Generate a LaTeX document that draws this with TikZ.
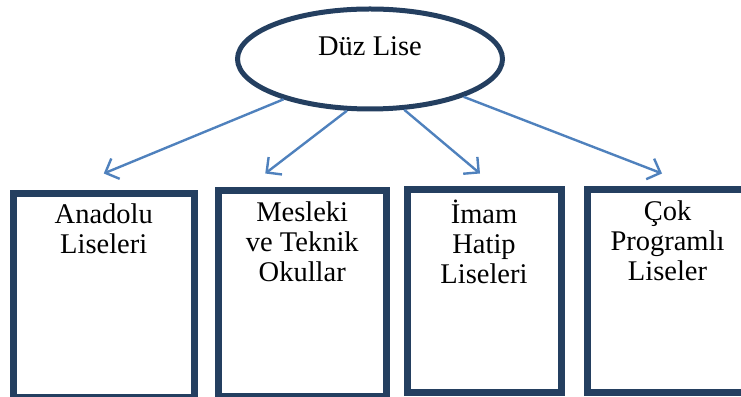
\documentclass[tikz,border=0pt]{standalone}
\usepackage{fontspec}
\setmainfont{Liberation Serif}
\usetikzlibrary{shapes.geometric,arrows.meta}
\definecolor{navy}{RGB}{36,63,96}
\definecolor{arrblue}{RGB}{79,129,189}
\begin{document}
\begin{tikzpicture}[x=1pt,y=1pt,
        oval/.style={ellipse, draw=navy, line width=5pt,
                        minimum width=265pt, minimum height=100pt,
                        text height=19pt, text depth=25pt,
                        font=\fontsize{28.5}{31}\selectfont},
        box/.style={rectangle, draw=navy, line width=7pt, inner sep=0pt},
        txt/.style={anchor=north, align=center, inner sep=0pt,
                        font=\fontsize{28.5}{30}\selectfont},
        arr/.style={draw=arrblue, line width=2.4pt,
                        -{Straight Barb[length=11pt,width=22pt,line width=2.4pt]}}]
    \useasboundingbox (0,0) rectangle (741,396);
    \clip (0,0) rectangle (741,396);
    \node[oval] (duz) at (370,337) {Düz Lise};
    \node[box, minimum width=180.5pt, minimum height=203.5pt] (box1) at (103.75,100.75) {};
    \node[box, minimum width=167.5pt, minimum height=205.5pt] (box2) at (302.25,102.75) {};
    \node[box, minimum width=154pt, minimum height=202.5pt] (box3) at (484,104.75) {};
    \node[box, minimum width=161pt, minimum height=202.5pt] (box4) at (667.5,104.75) {};
    \node[txt] (t1) at ([yshift=-12pt]box1.north) {\strut Anadolu\\Liseleri};
    \node[txt] (t2) at ([yshift=-13pt]box2.north) {\strut Mesleki\\ve Teknik\\Okullar};
    \node[txt] (t3) at ([yshift=-13pt]box3.north) {\strut İmam\\Hatip\\Liseleri};
    \node[txt] (t4) at ([yshift=-13pt]box4.north) {\strut Çok\\Programlı\\Liseler};
    \coordinate (e1) at ([yshift=16.5pt]box1.north);
    \coordinate (e2) at ([xshift=-37pt,yshift=13.5pt]box2.north);
    \coordinate (e3) at ([xshift=-4pt,yshift=13pt]box3.north);
    \coordinate (e4) at ([xshift=-5.5pt,yshift=13pt]box4.north);
    \draw[arr] (duz.205) -- (e1);
    \draw[arr] (duz.246) -- (e2);
    \draw[arr] (duz.304) -- (e3);
    \draw[arr] (duz.338) -- (e4);
\end{tikzpicture}
\end{document}
